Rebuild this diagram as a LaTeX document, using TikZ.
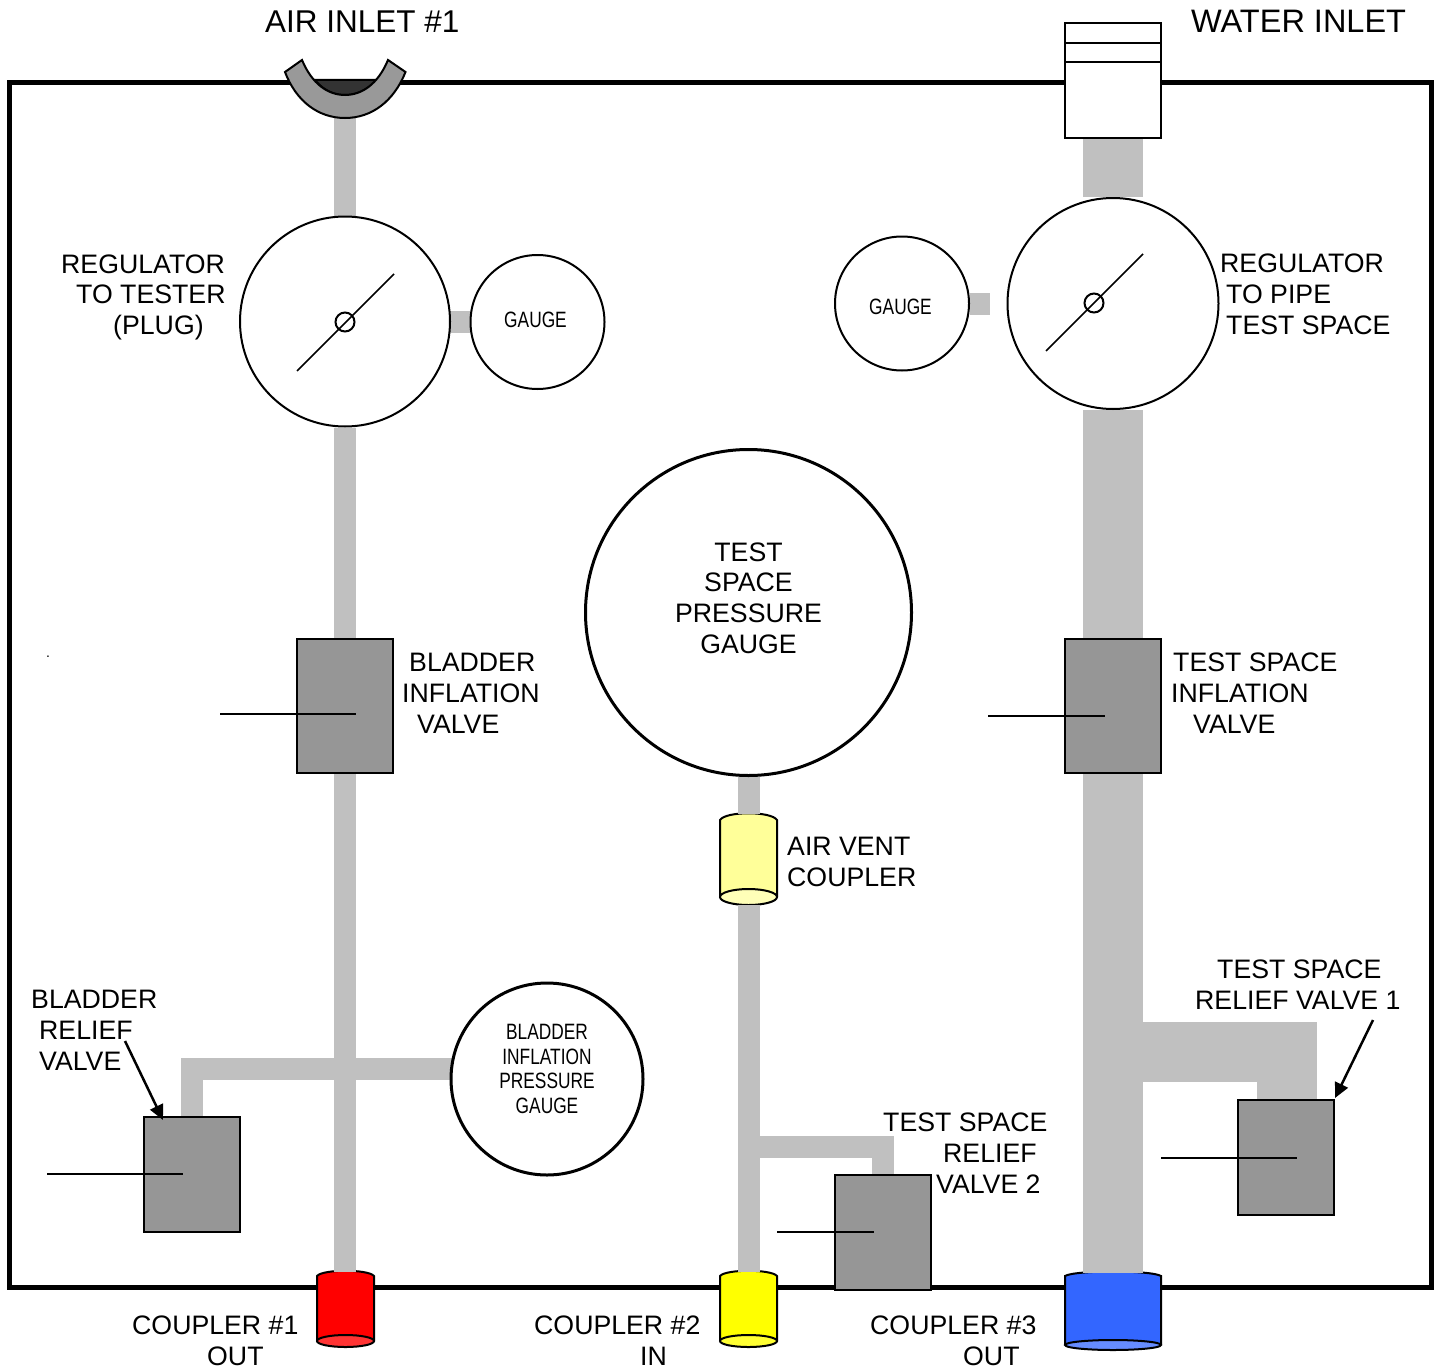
\documentclass[tikz,border=0pt]{standalone}
\usepackage{fontspec}
\setmainfont{Liberation Sans}
\newfontfamily\narrowfont[FakeStretch=0.78]{Liberation Sans}
\usetikzlibrary{arrows.meta}
\pgfdeclarelayer{base}
\pgfdeclarelayer{pipes}
\pgfsetlayers{base,pipes,main}
\definecolor{pipegray}{HTML}{C0C0C0}
\definecolor{valvegray}{HTML}{969696}
\definecolor{inletgray}{HTML}{999999}
\definecolor{inletdark}{HTML}{333333}
\definecolor{blue1}{HTML}{3366FF}
\definecolor{blue2}{HTML}{668CFF}
\definecolor{vent1}{HTML}{FFFF99}
\definecolor{vent2}{HTML}{FFFFB8}
\definecolor{red1}{HTML}{FF0000}
\definecolor{red2}{HTML}{FF3333}
\definecolor{yel1}{HTML}{FFFF00}
\definecolor{yel2}{HTML}{FFFF33}
\tikzset{
  outline/.style={draw=black,line width=2pt},
  pipe/.style={draw=pipegray,line width=22pt},
  widepipe/.style={draw=pipegray,line width=60pt},
  valvebox/.style={outline,fill=valvegray,rectangle,inner sep=0pt,minimum width=96pt},
  dial/.style={outline,fill=white,circle,inner sep=0pt},
  bigdial/.style={dial,line width=3pt},
  lever/.style={draw=black,line width=1.5pt},
  pointer/.style={draw=black,line width=2.5pt,-{Triangle[length=15pt,width=14pt]}},
  lab/.style={font=\fontsize{26.7pt}{30.6pt}\selectfont,inner sep=0pt,align=left,anchor=base west},
  clab/.style={lab,align=center,anchor=base},
  ttl/.style={font=\fontsize{31.5pt}{36pt}\selectfont,inner sep=0pt,anchor=base west},
  smalllab/.style={font=\narrowfont\fontsize{22.2pt}{24.5pt}\selectfont,inner sep=0pt,align=center,anchor=base},
}
% name, x centre, top, bottom, half width, ellipse ry, arc rise, body, ellipse fill
\newcommand{\couplerdraw}[9]{%
  \node[minimum width=#5*2pt,minimum height=#4pt-#3pt,inner sep=0pt,anchor=north] (#1) at (#2,#3) {};
  \pgfmathsetmacro{\ey}{#4-#6}
  \fill[#8] (#2-#5,#3+#7) .. controls (#2-#5*.8,#3-3) and (#2+#5*.8,#3-3) .. (#2+#5,#3+#7) -- (#2+#5,\ey) arc[start angle=0,end angle=-180,x radius=#5,y radius=#6] -- cycle;
  \draw[outline] (#2-#5,\ey) -- (#2-#5,#3+#7) .. controls (#2-#5*.8,#3-3) and (#2+#5*.8,#3-3) .. (#2+#5,#3+#7) -- (#2+#5,\ey);
  \draw[outline,fill=#9] (#2,\ey) ellipse[x radius=#5,y radius=#6];
}
\begin{document}
\begin{tikzpicture}[x=1pt,y=-1pt]
\useasboundingbox (0,0) rectangle (1437,1370);
\begin{pgfonlayer}{base}
  \fill[white] (0,0) rectangle (1437,1370);
  \draw[black,line width=5pt] (9,83) rectangle (1431,1287);
  \couplerdraw{cplone}{345.5}{1272}{1347}{28.5}{6}{4}{red1}{red2}
  \couplerdraw{cpltwo}{748.5}{1272}{1347}{28.5}{6}{4}{yel1}{yel2}
  \couplerdraw{cplthree}{1113}{1273}{1350}{48}{5}{3}{blue1}{blue2}
  \couplerdraw{vent}{748.5}{814}{905}{28.5}{8}{6}{vent1}{vent2}
\end{pgfonlayer}

% inlets
\coordinate (airin) at (345,118);
\draw[outline,fill=inletdark] (315,80) -- (377,80) .. controls (366,91) and (356,95) .. (345,95) .. controls (334,95) and (324,91) .. (315,80) -- cycle;
\draw[outline,fill=inletgray] (285,72) -- (302,60) .. controls (312,84) and (328,95) .. (345,95) .. controls (362,95) and (378,84) .. (388,60) -- (405.5,72) .. controls (394,101) and (372,118) .. (345,118) .. controls (318,118) and (296,101) .. (285,72) -- cycle;
\node[outline,fill=white,rectangle,inner sep=0pt,minimum width=96pt,minimum height=115pt,anchor=north] (waterin) at (1113,22) {};
\draw[outline] (1065,43) -- (1161,43) (1065,62) -- (1161,62);

% regulators and gauges
\node[dial,minimum size=210pt] (regl) at (345,321.5) {};
\node[dial,minimum size=211pt] (regr) at (1113,303.5) {};
\node[dial,minimum size=134pt] (gaugel) at (537.5,322) {};
\node[dial,minimum size=134pt] (gauger) at (902,303.5) {};
\node[bigdial,minimum size=326pt] (tspg) at (748.5,612.5) {};
\node[bigdial,minimum size=192pt] (bipg) at (547,1079) {};
\node[outline,circle,inner sep=0pt,minimum size=19pt] (hubl) at (345,322) {};
\node[outline,circle,inner sep=0pt,minimum size=19pt] (hubr) at (1094,303) {};

% valves
\node[valvebox,minimum height=134pt] (biv) at (345,706) {};
\node[valvebox,minimum height=134pt] (tsiv) at (1113,706) {};
\node[valvebox,minimum height=115pt] (brv) at (192,1174.5) {};
\node[valvebox,minimum height=115pt] (rvtwo) at (883,1232.5) {};
\node[valvebox,minimum height=115pt] (rvone) at (1286,1157.5) {};

% pipes
\coordinate (jl) at (345,1069);
\coordinate (jc) at (748.5,1147);
\coordinate (jr) at (1113,1051.5);
\coordinate (stubl) at (450,322);
\coordinate (stubr) at (990,303.5);
\begin{pgfonlayer}{pipes}
  \draw[pipe] (airin) -- (regl);
  \draw[pipe] (regl) -- (biv);
  \draw[pipe] (biv) -- (biv |- cplone.north);
  \draw[pipe] (stubl) -- (gaugel);
  \draw[pipe] (gauger) -- (stubr);
  \draw[pipe] (brv) |- (bipg.center |- jl);
  \draw[pipe] (tspg) -- (vent.north);
  \draw[pipe] (vent.south) -- (cpltwo.north);
  \draw[pipe] (jc) -| (rvtwo);
  \draw[widepipe] (waterin) -- (regr);
  \draw[widepipe] (regr) -- (tsiv);
  \draw[widepipe] (tsiv) -- (cplthree.north);
  \draw[widepipe] (jr) -| ([xshift=0.5pt]rvone.center);
\end{pgfonlayer}

% levers
\coordinate (ll1) at (297,371); \coordinate (ll2) at (394,274);
\coordinate (lr1) at (1046,351); \coordinate (lr2) at (1143,254);
\draw[lever] (ll1) -- (ll2);
\draw[lever] (lr1) -- (lr2);
\coordinate (hb1) at (220,714); \coordinate (hb2) at (356,714);
\coordinate (ht1) at (988,716); \coordinate (ht2) at (1105,716);
\coordinate (hr1) at (47,1174); \coordinate (hr2) at (183,1174);
\coordinate (h21) at (777,1232); \coordinate (h22) at (874,1232);
\coordinate (h11) at (1161,1158); \coordinate (h12) at (1297,1158);
\draw[lever] (hb1) -- (hb2);
\draw[lever] (ht1) -- (ht2);
\draw[lever] (hr1) -- (hr2);
\draw[lever] (h21) -- (h22);
\draw[lever] (h11) -- (h12);

% pointers
\coordinate (pa1) at (125,1041); \coordinate (pa2) at (163,1120);
\coordinate (pb1) at (1373,1020); \coordinate (pb2) at (1335,1098);
\draw[pointer] (pa1) -- (pa2);
\draw[pointer] (pb1) -- (pb2);

% labels
\node[ttl] (tair) at (265,33) {AIR INLET \#1};
\node[ttl,font=\fontsize{32.5pt}{36pt}\selectfont] (twat) at (1191,33) {WATER INLET};
\node[lab] (l1) at (61,334.5) {REGULATOR\\\hspace*{15pt}TO TESTER\\\hspace*{52pt}(PLUG)};
\node[lab] (l2) at (1220,334) {REGULATOR\\\hspace*{6pt}TO PIPE\\\hspace*{6pt}TEST SPACE};
\node[lab] (l3) at (402,733) {\hspace*{7pt}BLADDER\\INFLATION\\\hspace*{15pt}VALVE};
\node[lab] (l4) at (1171,733) {\hspace*{2pt}TEST SPACE\\INFLATION\\\hspace*{22pt}VALVE};
\node[lab] (l5) at (787,886) {AIR VENT\\COUPLER};
\node[lab] (l6) at (1195,1009) {\hspace*{22pt}TEST SPACE\\RELIEF VALVE 1};
\node[lab] (l7) at (31,1070) {BLADDER\\\hspace*{8pt}RELIEF\\\hspace*{8pt}VALVE};
\node[lab] (l8) at (883,1193) {TEST SPACE\\\hspace*{60pt}RELIEF\\\hspace*{53pt}VALVE 2};
\node[lab] (l9) at (132,1365) {COUPLER \#1\\\hspace*{75pt}OUT};
\node[lab] (l10) at (534,1365) {COUPLER \#2\\\hspace*{106pt}IN};
\node[lab] (l11) at (870,1365) {COUPLER \#3\\\hspace*{93pt}OUT};
\node[clab] (l12) at (748.5,653) {TEST\\SPACE\\PRESSURE\\GAUGE};
\node[smalllab] (s1) at (535.5,327) {GAUGE};
\node[smalllab] (s2) at (900.5,314) {GAUGE};
\node[smalllab] (s3) at (547,1113) {BLADDER\\INFLATION\\PRESSURE\\GAUGE};
\node[font=\fontsize{14pt}{14pt}\selectfont,inner sep=0pt,anchor=base] (dot) at (48,657) {.};
\end{tikzpicture}
\end{document}
